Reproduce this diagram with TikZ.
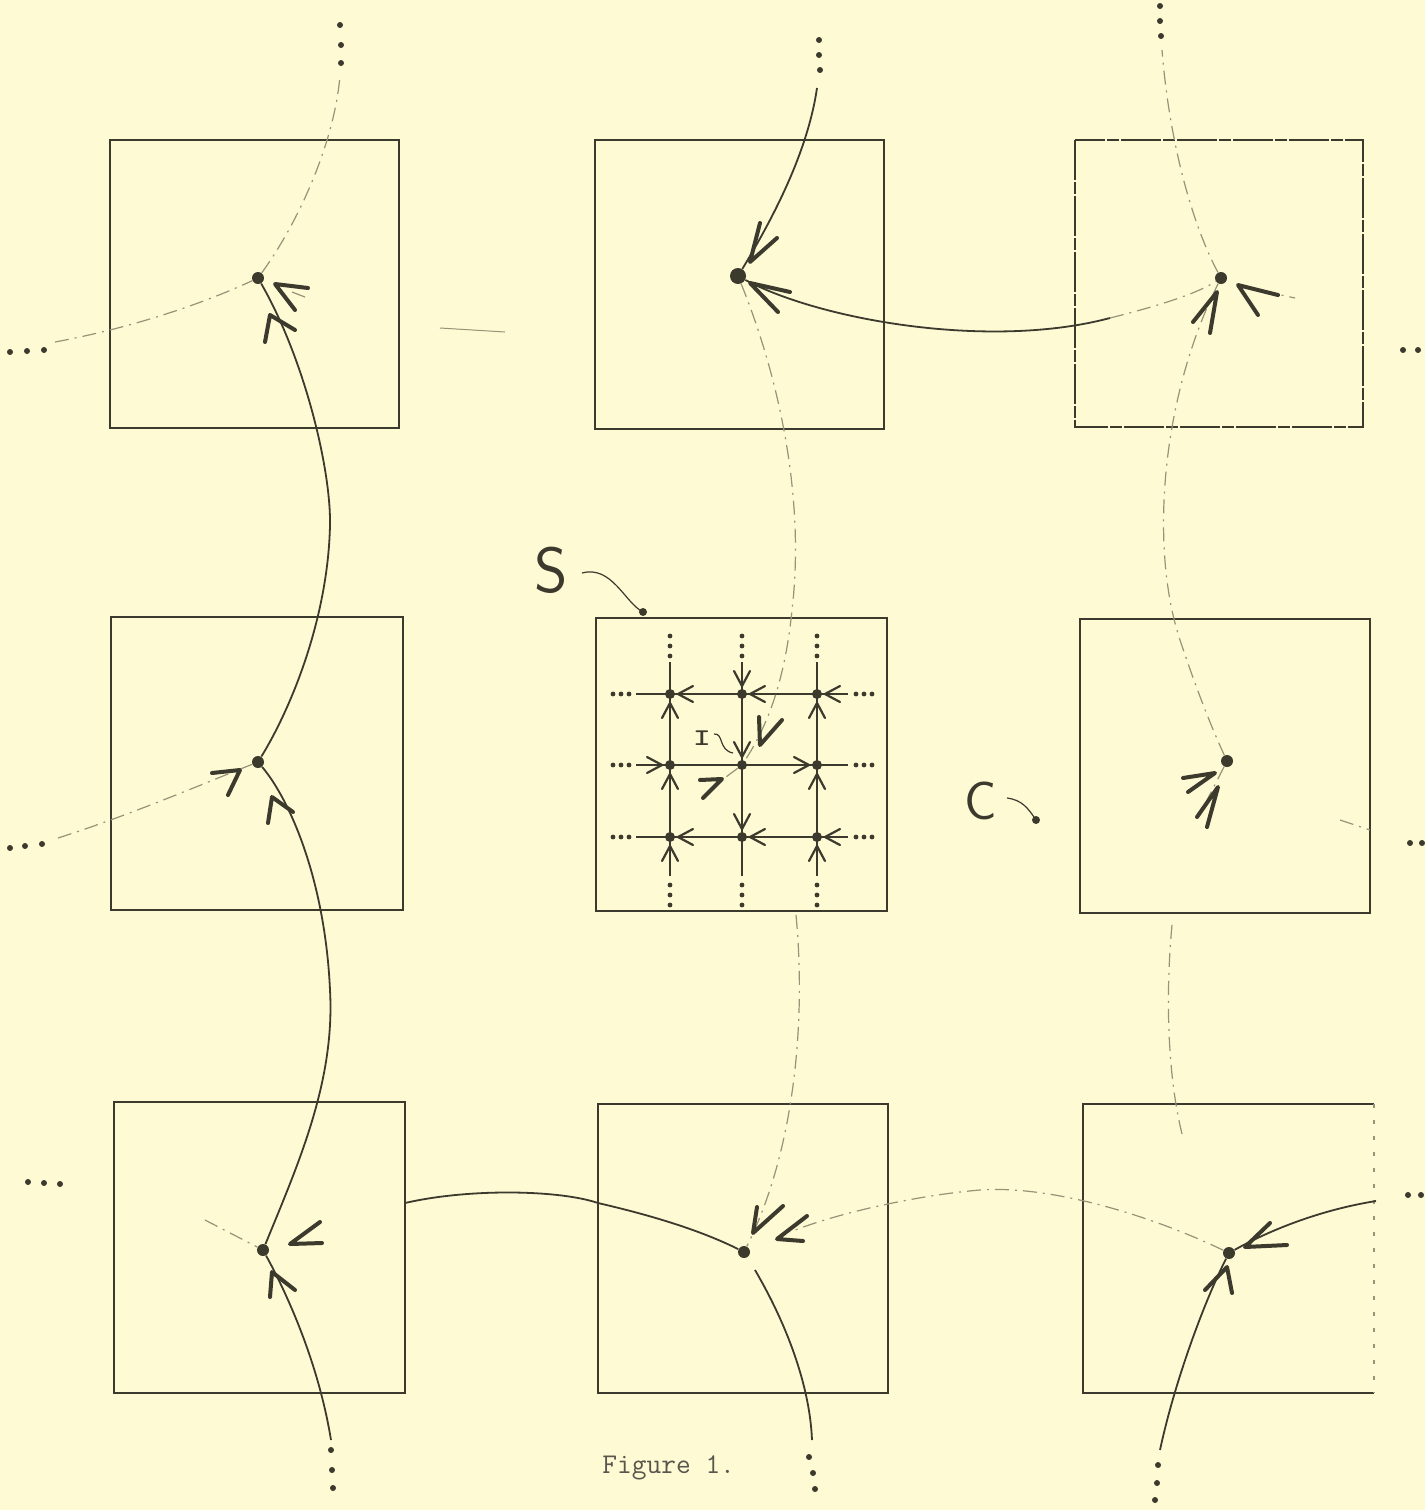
\documentclass[tikz,border=0pt]{standalone}
\usepackage{xcolor}
\definecolor{paper}{RGB}{253,250,212}
\definecolor{ink}{RGB}{60,57,45}
\definecolor{faint}{RGB}{150,147,120}
\begin{document}
\begin{tikzpicture}[x=0.5pt,y=-0.5pt,
  box/.style={draw=ink, line width=1pt},
  solidc/.style={draw=ink, line width=0.9pt},
  faintc/.style={draw=faint, line width=0.6pt, dash pattern=on 7pt off 3pt on 1pt off 3pt},
  aw/.style={draw=ink, line width=2pt, line cap=round, line join=round},
  saw/.style={draw=ink, line width=1.1pt, line cap=round, line join=round},
  gline/.style={draw=ink, line width=0.9pt},
  fp/.style={circle, fill=ink, inner sep=0pt, minimum size=6pt},
  gp/.style={circle, fill=ink, inner sep=0pt, minimum size=5pt},
  lab/.style={text=ink, inner sep=0pt}
]
\useasboundingbox (0,0) rectangle (1425,1510);
\fill[paper] (0,0) rectangle (1425,1510);

% ---------- boxes ----------
\draw[box] (110,140) rectangle (399,428);
\draw[box] (595,140) rectangle (884,429);
\draw[box, line width=0.8pt, dash pattern=on 20pt off 1pt on 6pt off 1pt] (1075,140) rectangle (1363,427);
\draw[box] (111,617) rectangle (403,910);
\draw[box] (596,618) rectangle (887,911);
\draw[box] (1080,619) rectangle (1370,913);
\draw[box] (114,1102) rectangle (405,1393);
\draw[box] (598,1104) rectangle (888,1393);
\draw[box] (1374,1393) -- (1083,1393) -- (1083,1104) -- (1374,1104);
\draw[draw=faint, line width=0.7pt, dash pattern=on 2pt off 6pt] (1374,1104) -- (1374,1393);

% ---------- fixed points ----------
\node[fp] (tl) at (258,278) {};
\node[fp, minimum size=8pt] (tm) at (738,276) {};
\node[fp] (tr) at (1221,278) {};
\node[fp] (ml) at (258,762) {};
\node[fp] (mr) at (1227,761) {};
\node[fp] (bl) at (263,1250) {};
\node[fp] (bm) at (744,1252) {};
\node[fp] (br) at (1229,1253) {};

% ---------- centre grid ----------
\foreach \x [count=\i] in {670,742,817}
  \foreach \y [count=\j] in {694,765,837}
    \node[gp] (g\i\j) at (\x,\y) {};
\foreach \y [count=\j] in {694,765,837} {
  \coordinate (hl\j) at (636,\y);
  \coordinate (hr\j) at (848,\y);
  \draw[gline] (hl\j) -- (hr\j);
  \foreach \d in {613,621,629,856,864,872} \fill[ink] (\d,\y) circle (1.2pt);
}
\foreach \x [count=\i] in {670,742,817} {
  \coordinate (vt\i) at (\x,662);
  \coordinate (vb\i) at (\x,876);
  \draw[gline] (vt\i) -- (vb\i);
  \foreach \d in {636,646,656,885,895,905} \fill[ink] (\x,\d) circle (1.2pt);
}
% small arrowheads in the grid
\foreach \tx/\ty/\a in {
  678/694/180, 670/703/90,
  742/686/270, 750/694/180,
  825/694/180, 817/703/90,
  662/765/0, 670/774/90,
  742/757/270,
  809/765/0, 817/774/90,
  678/837/180, 670/846/90,
  742/829/270, 750/837/180,
  825/837/180, 817/846/90}
  \draw[saw, shift={(\tx,\ty)}, rotate=\a] (-15,-8) -- (0,0) -- (-15,8);

% ---------- left column ----------
\coordinate (lb) at (331,1440);
\draw[solidc] (lb) .. controls (318,1360) and (285,1290) .. (bl);
\draw[solidc] (bl) .. controls (300,1160) and (335,1080) .. (330,990) .. controls (325,880) and (290,800) .. (ml);
\draw[solidc] (ml) .. controls (290,710) and (328,620) .. (330,525) .. controls (331,470) and (305,360) .. (tl);
\coordinate (lt) at (340,75);
\draw[faintc] (tl) .. controls (300,220) and (335,140) .. (lt);
\coordinate (tll) at (55,342);
\draw[faintc] (tll) .. controls (130,328) and (200,305) .. (tl);
\coordinate (tlr1) at (292,292);
\coordinate (tlr2) at (310,299);
\draw[faintc] (tlr1) -- (tlr2);
\coordinate (tlr3) at (440,328);
\coordinate (tlr4) at (505,332);
\draw[draw=faint, line width=0.5pt] (tlr3) -- (tlr4);

% ---------- top middle ----------
\coordinate (mt) at (817,88);
\draw[solidc] (mt) .. controls (808,150) and (775,215) .. (tm);
\coordinate (tmr) at (1110,318);
\draw[solidc] (tm) .. controls (820,320) and (990,350) .. (tmr);
\draw[faintc] (tmr) .. controls (1150,308) and (1195,295) .. (tr);
\draw[faintc] (tm) .. controls (780,380) and (805,500) .. (792,610) .. controls (785,680) and (768,725) .. (g22);
\coordinate (ia) at (726,777);
\draw[faintc] (g22) -- (ia);

% ---------- top right ----------
\coordinate (rt) at (1162,50);
\draw[faintc] (tr) .. controls (1195,230) and (1170,150) .. (rt);
\draw[faintc] (tr) .. controls (1160,400) and (1150,550) .. (1180,640) .. controls (1200,700) and (1215,735) .. (mr);
\coordinate (trr1) at (1262,291);
\coordinate (trr) at (1295,298);
\draw[faintc] (trr1) -- (trr);

% ---------- middle row ----------
\coordinate (mll) at (58,838);
\draw[faintc] (mll) .. controls (130,815) and (200,785) .. (ml);
\coordinate (mrb) at (1203,808);
\draw[faintc] (mr) -- (mrb);
\coordinate (mrr1) at (1340,820);
\coordinate (mrr2) at (1370,830);
\draw[faintc] (mrr1) -- (mrr2);
\coordinate (mrd1) at (1172,925);
\coordinate (mrd2) at (1183,1138);
\draw[faintc] (mrd1) .. controls (1165,1000) and (1168,1080) .. (mrd2);

% ---------- bottom row ----------
\coordinate (bll) at (205,1220);
\draw[faintc] (bll) -- (bl);
\coordinate (blr) at (405,1203);
\coordinate (bml) at (598,1203);
\draw[solidc] (blr) .. controls (470,1188) and (560,1190) .. (bml) .. controls (650,1215) and (700,1230) .. (bm);
\coordinate (cb) at (796,915);
\draw[faintc] (cb) .. controls (806,1020) and (795,1150) .. (bm);
\coordinate (bmd) at (755,1270);
\coordinate (mb) at (812,1440);
\draw[solidc] (bmd) .. controls (790,1330) and (810,1390) .. (mb);
\coordinate (bmr) at (790,1232);
\draw[faintc] (br) .. controls (1150,1215) and (1050,1185) .. (980,1190) .. controls (920,1195) and (840,1212) .. (bmr);
\coordinate (brr) at (1376,1201);
\draw[solidc] (brr) .. controls (1320,1210) and (1270,1230) .. (br);
\coordinate (brb) at (1160,1450);
\draw[solidc] (br) .. controls (1205,1300) and (1175,1380) .. (brb);

% ---------- big arrowheads ----------
\foreach \ax/\ay/\tx/\ty/\bx/\by in {
  265/342/270/315/295/330,
  308/288/275/284/295/310,
  760/223/750/262/777/238,
  790/292/750/283/778/312,
  1210/333/1217/292/1193/322,
  1278/295/1238/285/1258/315,
  212/773/240/770/228/795,
  268/823/272/797/293/812,
  1183/778/1215/773/1188/792,
  1197/817/1218/787/1207/827,
  320/1222/290/1244/322/1243,
  270/1297/272/1272/295/1290,
  757/1207/753/1233/783/1206,
  807/1216/777/1239/803/1241,
  1270/1223/1245/1247/1287/1245,
  1205/1290/1227/1267/1232/1293,
  759/717/760/745/782/720,
  700/780/722/779/703/798}
  \draw[aw] (\ax,\ay) -- (\tx,\ty) -- (\bx,\by);

% ---------- ellipsis dots ----------
\foreach \px/\py in {
  340/25, 341/45, 341/63,
  819/40, 819/55, 820/70,
  1160/6, 1160/21, 1161/36,
  331/1450, 332/1470, 333/1488,
  809/1457, 813/1473, 815/1489,
  1158/1465, 1157/1483, 1155/1500,
  10/352, 27/351, 44/350,
  10/848, 25/846, 42/844,
  28/1182, 44/1183, 60/1184,
  1403/350, 1418/350,
  1410/843, 1422/843,
  1408/1195, 1421/1195}
  \fill[ink] (\px,\py) circle (1.5pt);

% ---------- labels ----------
\node[lab, font=\sffamily\fontsize{32}{32}\selectfont] (S) at (551,570) {S};
\coordinate (sl) at (582,573);
\coordinate (sd) at (643,612);
\draw[solidc, line width=0.6pt] (sl) .. controls (612,565) and (625,603) .. (sd);
\fill[ink] (sd) circle (2pt);

\node[lab, font=\sffamily\fontsize{27}{27}\selectfont] (C) at (981,801) {C};
\coordinate (cl) at (1007,798);
\coordinate (cd) at (1036,820);
\draw[solidc, line width=0.6pt] (cl) .. controls (1022,800) and (1028,808) .. (cd);
\fill[ink] (cd) circle (2pt);

\node[lab, xscale=1.4, font=\ttfamily\bfseries\fontsize{12}{12}\selectfont] (Ilab) at (702,738) {I};
\coordinate (il) at (714,734);
\coordinate (id) at (733,753);
\draw[solidc, line width=0.6pt] (il) .. controls (724,733) and (718,750) .. (id);

\node[lab, anchor=base west, font=\ttfamily\fontsize{14.3}{14.3}\selectfont, text=ink!85] (cap) at (602,1473) {Figure 1.};
\end{tikzpicture}
\end{document}
